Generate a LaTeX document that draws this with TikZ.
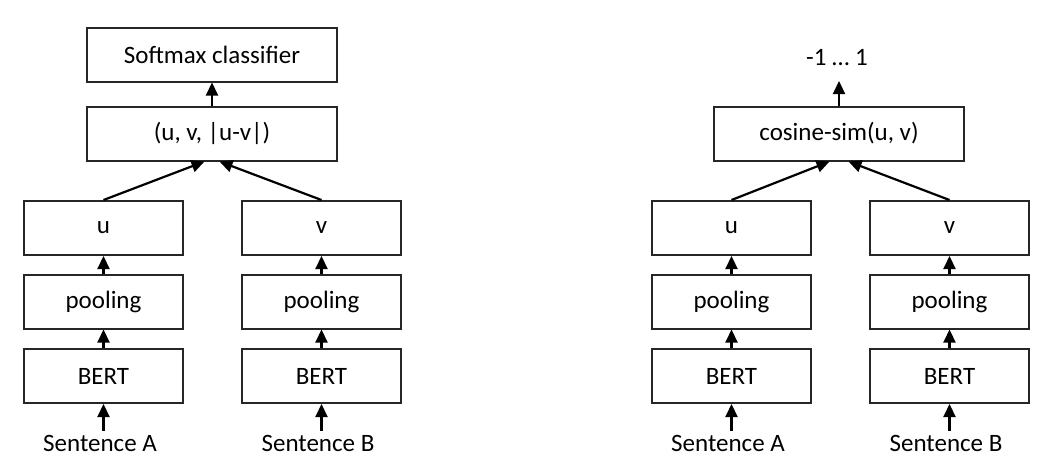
\documentclass[tikz,border=0pt]{standalone}
\usepackage{fontspec}
\setmainfont{Carlito}
\usetikzlibrary{arrows.meta}
\begin{document}
\begin{tikzpicture}[x=1pt,y=-1pt,
  box/.style={draw=black!85, line width=2pt, minimum width=159pt, minimum height=54pt, inner sep=0pt, font=\fontsize{25}{30}\selectfont},
  wbox/.style={box, minimum width=250pt},
  lbl/.style={inner sep=0pt, font=\fontsize{25}{30}\selectfont},
  arr/.style={-{Triangle[length=13pt,width=12pt]}, line width=2.2pt, black}]
\useasboundingbox (0,0) rectangle (1052,475);
% left
\node[wbox] (soft) at (212,54.5) {Softmax classifier};
\node[wbox] (cat) at (212,133.5) {(u, v, |u-v|)};
\node[box] (u1) at (103.5,228) {u};
\node[box] (v1) at (321.5,228) {v};
\node[box] (p1) at (103.5,301.5) {pooling};
\node[box] (p2) at (321.5,301.5) {pooling};
\node[box] (b1) at (103.5,376) {BERT};
\node[box] (b2) at (321.5,376) {BERT};
\node[lbl] (sa1) at (100,443) {Sentence A};
\node[lbl] (sb1) at (318,443) {Sentence B};
\draw[arr] (cat.north) -- (soft.south);
\draw[arr] (u1.north) -- ([xshift=-7.5pt]cat.south);
\draw[arr] (v1.north) -- ([xshift=7.5pt]cat.south);
\draw[arr] (p1.north) -- (u1.south);
\draw[arr] (p2.north) -- (v1.south);
\draw[arr] (b1.north) -- (p1.south);
\draw[arr] (b2.north) -- (p2.south);
\draw[arr] ([xshift=3.5pt]sa1.north) ++(0,-4) coordinate (sa1t) -- (b1.south);
\draw[arr] ([xshift=3.5pt]sb1.north) ++(0,-4) coordinate (sb1t) -- (b2.south);
% right
\node[wbox] (cos) at (839,133.5) {cosine-sim(u, v)};
\node[lbl] (res) at (837,58) {-1 … 1};
\node[box] (u2) at (731.5,228) {u};
\node[box] (v2) at (949.5,228) {v};
\node[box] (p3) at (731.5,301.5) {pooling};
\node[box] (p4) at (949.5,301.5) {pooling};
\node[box] (b3) at (731.5,376) {BERT};
\node[box] (b4) at (949.5,376) {BERT};
\node[lbl] (sa2) at (728,443) {Sentence A};
\node[lbl] (sb2) at (946,443) {Sentence B};
\coordinate (rest) at (839,81);
\draw[arr] (cos.north) -- (rest);
\draw[arr] (u2.north) -- ([xshift=-9.5pt]cos.south);
\draw[arr] (v2.north) -- ([xshift=9.5pt]cos.south);
\draw[arr] (p3.north) -- (u2.south);
\draw[arr] (p4.north) -- (v2.south);
\draw[arr] (b3.north) -- (p3.south);
\draw[arr] (b4.north) -- (p4.south);
\draw[arr] ([xshift=3.5pt]sa2.north) ++(0,-4) coordinate (sa2t) -- (b3.south);
\draw[arr] ([xshift=3.5pt]sb2.north) ++(0,-4) coordinate (sb2t) -- (b4.south);
\end{tikzpicture}
\end{document}
